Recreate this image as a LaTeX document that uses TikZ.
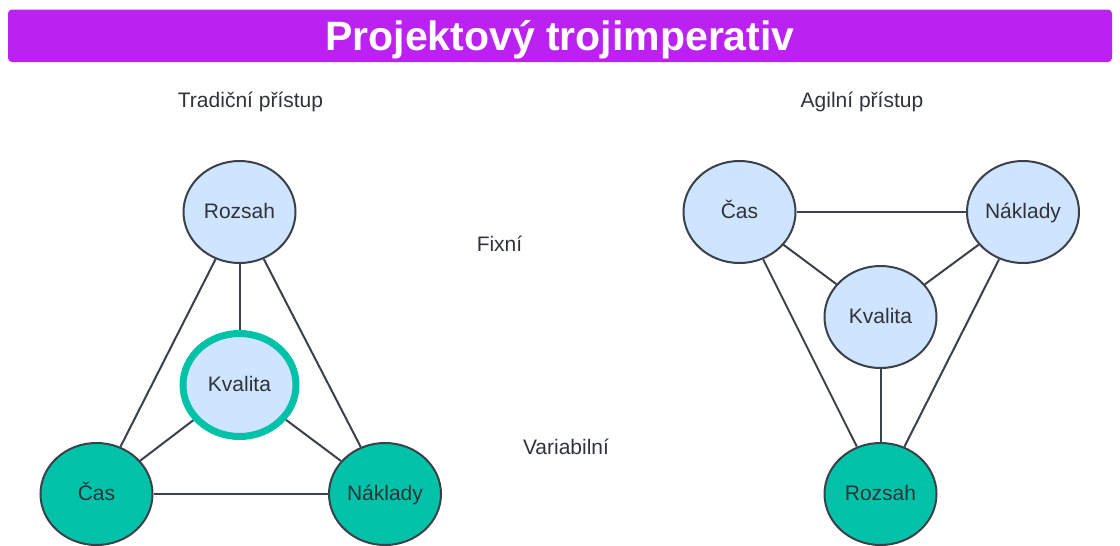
\documentclass[tikz,border=0pt]{standalone}
\usepackage{fontspec}
\setmainfont{Liberation Sans}
\usepackage{tikz}
\usetikzlibrary{positioning,shapes}
\pgfdeclarelayer{background layer}
\pgfsetlayers{background layer,main}
\definecolor{titlebar}{HTML}{BB22F2}
\definecolor{lightblue}{HTML}{CFE4FF}
\definecolor{tealfill}{HTML}{00C2A8}
\definecolor{outline}{HTML}{3A414A}
\definecolor{ink}{HTML}{2F333A}

\begin{document}
\begin{tikzpicture}[x=1pt,y=-1pt]
\tikzstyle{txt}=[text=ink,font=\fontsize{21}{25}\selectfont,text height=14.7pt,text depth=2.1pt,inner sep=0pt]
\tikzstyle{bubble}=[txt,ellipse,draw=outline,line width=2pt,fill=lightblue,minimum width=112pt,minimum height=102pt]
\tikzstyle{fixbubble}=[bubble,fill=tealfill]
\tikzstyle{link}=[draw=outline,line width=2pt]
\useasboundingbox (0,0) rectangle (1120,546);
% title
\node [fill=titlebar,rounded corners=4pt,minimum width=1104pt,minimum height=52.5pt,inner sep=0pt,
  text=white,font=\fontsize{41}{48}\selectfont\bfseries,text height=30pt,text depth=0pt] (title) at (560,35.75) {Projektový trojimperativ};
% headings
\node [txt] (trad) at (250.5,101) {Tradiční přístup};
\node [txt] (agil) at (862,101) {Agilní přístup};
\node [txt] (fix) at (499.5,245) {Fixní};
\node [txt] (var) at (566,448) {Variabilní};
% traditional triangle
\node [bubble] (tr) at (239.5,212) {Rozsah};
\node [bubble,draw=tealfill,line width=7pt,minimum width=113pt,minimum height=103pt] (tk) at (239.5,385) {Kvalita};
\node [fixbubble] (tc) at (96.5,494) {Čas};
\node [fixbubble] (tn) at (385,494) {Náklady};
% agile triangle
\node [bubble] (ac) at (739.5,212) {Čas};
\node [bubble] (an) at (1023,212) {Náklady};
\node [bubble] (ak) at (880.5,317) {Kvalita};
\node [fixbubble] (ar) at (880.5,494) {Rozsah};
\begin{pgfonlayer}{background layer}
\path [link] (tr) -- (tk);
\path [link] (tr) -- (tc);
\path [link] (tr) -- (tn);
\path [link] (tk) -- (tc);
\path [link] (tk) -- (tn);
\path [link] (tc) -- (tn);
\path [link] (ac) -- (an);
\path [link] (ac) -- (ak);
\path [link] (an) -- (ak);
\path [link] (ak) -- (ar);
\path [link] (ac) -- (ar);
\path [link] (an) -- (ar);
\end{pgfonlayer}
\end{tikzpicture}
\end{document}
